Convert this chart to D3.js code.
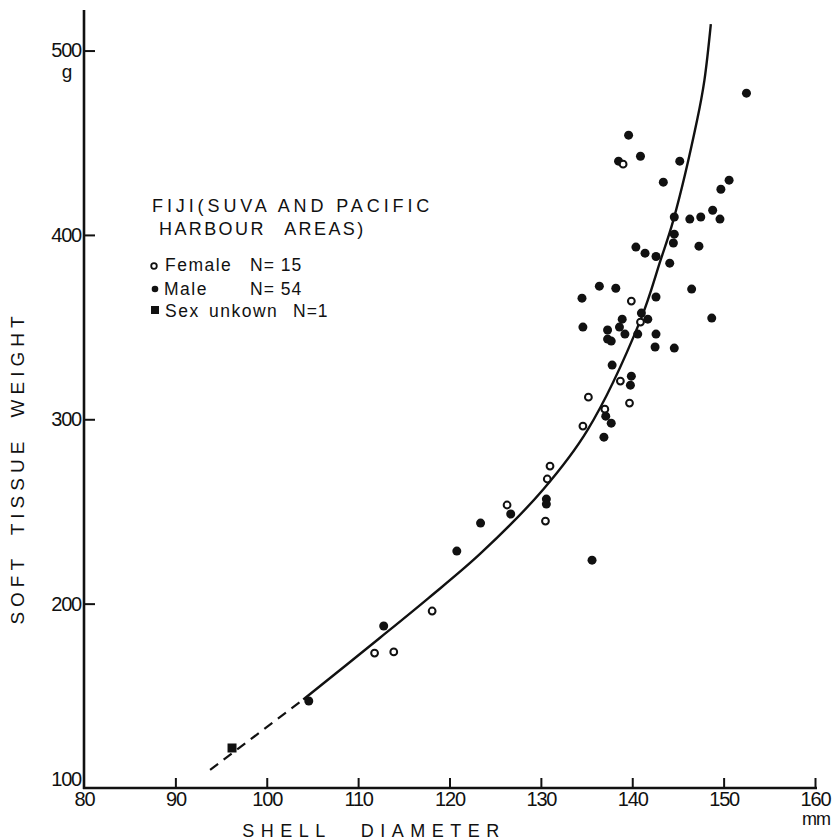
<!DOCTYPE html>
<html>
<head>
<meta charset="utf-8">
<script src="https://cdn.jsdelivr.net/npm/d3@7"></script>
<style>
  body { margin: 0; background: #fff; }
  svg text { font-family: "Liberation Sans", Arial, sans-serif; fill: #111; }
</style>
</head>
<body>
<svg width="832" height="840"></svg>
<script>
// shell diameter (mm) and soft tissue weight (g)
var femaleShell  = [139.0, 139.9, 140.9, 138.7, 135.2, 139.7, 137.0, 134.6, 131.0, 130.7, 130.5, 126.3, 111.8, 113.9, 118.1];
var femaleWeight = [438.4, 364.1, 352.7, 320.7, 312.0, 308.8, 305.5, 296.3, 274.6, 267.6, 244.8, 253.5, 173.2, 173.8, 196.0];

var maleShell  = [152.5, 139.6, 140.9, 138.5, 145.2, 143.4, 150.6, 149.7, 148.8, 149.6,
                  144.6, 146.3, 147.5, 144.6, 144.5, 147.3, 140.4, 141.4, 142.6, 144.1,
                  134.5, 136.4, 138.2, 142.6, 146.5, 148.7, 134.6, 138.9, 138.6, 137.3,
                  137.3, 137.7, 139.2, 140.6, 141.0, 141.7, 142.6, 142.5, 144.6, 137.8,
                  139.9, 139.8, 137.1, 137.7, 136.9, 130.6, 130.6, 126.7, 123.4, 120.8,
                  135.6, 112.8, 104.6];
var maleWeight = [476.9, 454.1, 442.7, 440.0, 440.0, 428.6, 429.7, 424.8, 413.4, 408.6,
                  409.7, 408.6, 409.7, 400.4, 395.6, 393.9, 393.4, 390.1, 388.3, 384.7,
                  365.7, 372.2, 371.1, 366.3, 370.6, 354.9, 350.0, 354.3, 350.0, 348.4,
                  343.5, 342.4, 346.2, 346.2, 357.6, 354.3, 346.2, 339.2, 338.6, 329.4,
                  323.4, 318.5, 301.7, 297.9, 290.3, 256.7, 254.0, 248.6, 243.7, 228.5,
                  223.6, 187.9, 147.2];

var unknownShell  = [96.2];
var unknownWeight = [121.7];

// fitted curve (dashed below 104 mm)
var curveShell  = [93.8, 104.0, 112.4, 117.7, 123.4, 130.3, 135.1, 140.9, 143.1, 144.5, 147.1, 147.9, 148.6];
var curveWeight = [109.8, 148.0, 181.5, 203.0, 227.2, 262.2, 294.1, 353.8, 386.3, 408.0, 462.3, 484.0, 514.3];
var dashedUntil = 104.0;

var xTicks = [80, 90, 100, 110, 120, 130, 140, 150, 160];
var yTicks = [100, 200, 300, 400, 500];

var svg = d3.select('svg');

var x = d3.scaleLinear().domain([80, 160]).range([84, 815]);
var y = d3.scaleLinear().domain([100, 522]).range([788, 10]);

// axes
var xAxis = d3.axisBottom(x).tickValues(xTicks).tickSize(-10).tickSizeOuter(0).tickPadding(4);
var yAxis = d3.axisLeft(y).tickValues(yTicks).tickSize(-11).tickSizeOuter(0).tickPadding(3);

var gx = svg.append('g').attr('transform', 'translate(0,' + y(100) + ')').call(xAxis);
var gy = svg.append('g').attr('transform', 'translate(' + x(80) + ',0)').call(yAxis);

gx.select('.domain').remove();
gy.select('.domain').remove();

svg.append('line')
    .attr('x1', x(80) - 1).attr('x2', x(160) + 2)
    .attr('y1', y(100)).attr('y2', y(100))
    .attr('stroke', '#111').attr('stroke-width', 2.6);
svg.append('line')
    .attr('x1', x(80)).attr('x2', x(80))
    .attr('y1', y(522)).attr('y2', y(100) + 1)
    .attr('stroke', '#111').attr('stroke-width', 2.6);

[gx, gy].forEach(function(g){
    g.selectAll('.tick line').attr('stroke', '#111').attr('stroke-width', 2);
    g.selectAll('.tick text')
        .attr('font-size', 20)
        .attr('letter-spacing', '-1.2px')
        .attr('fill', '#111')
        .style('font-family', '"Liberation Sans", Arial, sans-serif');
});
gy.selectAll('.tick').filter(function(d){ return d === 100; }).select('text').attr('dy', '-0.12em');
gy.selectAll('.tick').filter(function(d){ return d === 100; }).select('line').remove();
gx.selectAll('.tick').filter(function(d){ return d === 80; }).select('line').remove();

// unit labels
svg.append('text').attr('x', x(80) - 17).attr('y', y(500) + 27)
    .attr('text-anchor', 'middle').attr('font-size', 19).text('g');
svg.append('text').attr('x', x(160) + 1).attr('y', y(100) + 37)
    .attr('text-anchor', 'middle').attr('font-size', 18).attr('letter-spacing', '-1px').text('mm');

// axis titles
svg.append('text')
    .attr('x', 374).attr('y', 837)
    .attr('text-anchor', 'middle')
    .attr('font-size', 18)
    .attr('letter-spacing', '6.5px')
    .attr('word-spacing', '18px')
    .text('SHELL DIAMETER');

svg.append('text')
    .attr('transform', 'translate(24,468) rotate(-90)')
    .attr('text-anchor', 'middle')
    .attr('font-size', 19)
    .attr('letter-spacing', '5px')
    .attr('word-spacing', '9px')
    .text('SOFT TISSUE WEIGHT');

// fitted curve
var curveData = curveShell.map(function(d, i){ return {x: d, y: curveWeight[i]}; });
var line = d3.line()
    .x(function(d){ return x(d.x); })
    .y(function(d){ return y(d.y); })
    .curve(d3.curveCatmullRom.alpha(0.5));

svg.append('path')
    .datum(curveData.filter(function(d){ return d.x <= dashedUntil; }))
    .attr('d', line)
    .attr('fill', 'none').attr('stroke', '#111').attr('stroke-width', 2.2)
    .attr('stroke-dasharray', '10,7');

svg.append('path')
    .datum(curveData.filter(function(d){ return d.x >= dashedUntil; }))
    .attr('d', line)
    .attr('fill', 'none').attr('stroke', '#111').attr('stroke-width', 2.4);

// points
var males = maleShell.map(function(d, i){ return {x: d, y: maleWeight[i]}; });
var females = femaleShell.map(function(d, i){ return {x: d, y: femaleWeight[i]}; });
var unknown = unknownShell.map(function(d, i){ return {x: d, y: unknownWeight[i]}; });

svg.selectAll('circle.male')
    .data(males)
    .enter()
    .append('circle')
    .attr('class', 'male')
    .attr('cx', function(d){ return x(d.x); })
    .attr('cy', function(d){ return y(d.y); })
    .attr('r', 4.5)
    .attr('fill', '#111');

svg.selectAll('circle.female')
    .data(females)
    .enter()
    .append('circle')
    .attr('class', 'female')
    .attr('cx', function(d){ return x(d.x); })
    .attr('cy', function(d){ return y(d.y); })
    .attr('r', 3.4)
    .attr('fill', '#fff')
    .attr('stroke', '#111')
    .attr('stroke-width', 2);

svg.selectAll('rect.unknown')
    .data(unknown)
    .enter()
    .append('rect')
    .attr('class', 'unknown')
    .attr('x', function(d){ return x(d.x) - 4.5; })
    .attr('y', function(d){ return y(d.y) - 4.5; })
    .attr('width', 9)
    .attr('height', 9)
    .attr('fill', '#111');

// legend
var legend = svg.append('g');
legend.append('text').attr('x', 152).attr('y', 212)
    .attr('font-size', 18).attr('letter-spacing', '3.9px')
    .text('FIJI(SUVA AND PACIFIC');
legend.append('text').attr('x', 159).attr('y', 235)
    .attr('font-size', 18).attr('letter-spacing', '2.4px').attr('word-spacing', '12px')
    .text('HARBOUR AREAS)');

legend.append('circle').attr('cx', 154).attr('cy', 266).attr('r', 2.8)
    .attr('fill', '#fff').attr('stroke', '#111').attr('stroke-width', 1.8);
legend.append('text').attr('x', 165).attr('y', 271).attr('font-size', 17.5).attr('letter-spacing', '1.5px').text('Female');
legend.append('text').attr('x', 250).attr('y', 271).attr('font-size', 17.5).attr('letter-spacing', '1px').text('N= 15');

legend.append('circle').attr('cx', 155).attr('cy', 289).attr('r', 3.3).attr('fill', '#111');
legend.append('text').attr('x', 164).attr('y', 295).attr('font-size', 17.5).attr('letter-spacing', '1.5px').text('Male');
legend.append('text').attr('x', 250).attr('y', 295).attr('font-size', 17.5).attr('letter-spacing', '1px').text('N= 54');

legend.append('rect').attr('x', 151).attr('y', 306).attr('width', 8).attr('height', 8).attr('fill', '#111');
legend.append('text').attr('x', 165).attr('y', 317).attr('font-size', 17.5).attr('letter-spacing', '1.5px').attr('word-spacing', '3px').text('Sex unkown');
legend.append('text').attr('x', 293).attr('y', 317).attr('font-size', 17.5).attr('letter-spacing', '1px').text('N=1');
</script>
</body>
</html>
